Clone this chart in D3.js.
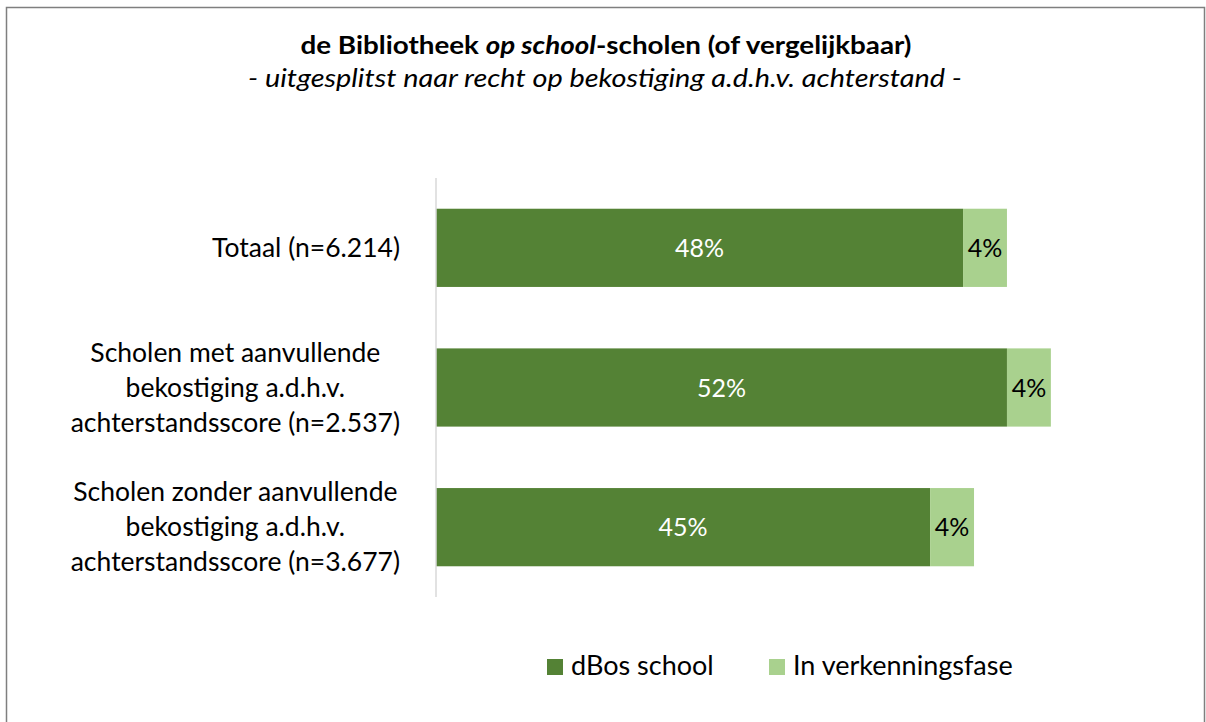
<!DOCTYPE html>
<html>
<head>
<meta charset="utf-8">
<script src="https://cdn.jsdelivr.net/npm/d3@7"></script>
<style>
  body { margin: 0; background: #fff; }
  text { font-family: Lato, "Open Sans", sans-serif; }
</style>
</head>
<body>
<div id="viz"></div>
<script>
const width = 1206, height = 722

// data
const categories = [
    ["Totaal (n=6.214)"],
    ["Scholen met aanvullende", "bekostiging a.d.h.v.", "achterstandsscore (n=2.537)"],
    ["Scholen zonder aanvullende", "bekostiging a.d.h.v.", "achterstandsscore (n=3.677)"]
]
const seriesNames = ["dBos school", "In verkenningsfase"]
const dbos = [48, 52, 45]
const verkenning = [4, 4, 4]

const colors = {
    dbos: "#548235",
    verkenning: "#a9d18e",
    axis: "#d9d9d9",
    frame: "#7f7f7f",
    text: "#000"
}

const svg = d3.select("#viz").append("svg")
    .attr("width", width)
    .attr("height", height)

svg.append("rect").attr("width", width).attr("height", height).attr("fill", "#fff")

// outer frame
svg.append("rect")
    .attr("x", 6.5).attr("y", 7.5)
    .attr("width", 1198).attr("height", 730)
    .attr("fill", "none").attr("stroke", colors.frame).attr("stroke-width", 1.5)

// title
const title = svg.append("text")
    .attr("x", 606).attr("y", 54)
    .attr("text-anchor", "middle")
    .attr("textLength", 611).attr("lengthAdjust", "spacingAndGlyphs")
    .style("font-size", "25px").style("font-weight", "bold")
title.append("tspan").text("de Bibliotheek ")
title.append("tspan").style("font-style", "italic").text("op school")
title.append("tspan").text("-scholen (of vergelijkbaar)")

svg.append("text")
    .attr("x", 605).attr("y", 87)
    .attr("text-anchor", "middle")
    .attr("textLength", 714).attr("lengthAdjust", "spacingAndGlyphs")
    .style("font-size", "26px").style("font-style", "italic")
    .text("- uitgesplitst naar recht op bekostiging a.d.h.v. achterstand -")

// scales
const x = d3.scaleLinear().domain([0, 100]).range([436, 436 + 1098])
const y = d3.scaleBand().domain(d3.range(categories.length)).range([178, 597]).paddingInner(0.44).paddingOuter(0.22)

const rows = categories.map((c, i) => ({ i, label: c, a: dbos[i], b: verkenning[i] }))

// bars
svg.selectAll(".bar-a").data(rows).join("rect")
    .attr("x", x(0)).attr("y", d => y(d.i))
    .attr("width", d => x(d.a) - x(0)).attr("height", y.bandwidth())
    .attr("fill", colors.dbos)

svg.selectAll(".bar-b").data(rows).join("rect")
    .attr("x", d => x(d.a)).attr("y", d => y(d.i))
    .attr("width", d => x(d.a + d.b) - x(d.a)).attr("height", y.bandwidth())
    .attr("fill", colors.verkenning)

// axis line
svg.append("line")
    .attr("x1", x(0)).attr("x2", x(0))
    .attr("y1", 178).attr("y2", 597)
    .attr("stroke", colors.axis).attr("stroke-width", 1.5)

// data labels
svg.selectAll(".lab-a").data(rows).join("text")
    .attr("x", d => (x(0) + x(d.a)) / 2).attr("y", d => y(d.i) + y.bandwidth() / 2)
    .attr("dy", "0.36em").attr("text-anchor", "middle")
    .style("font-size", "25px").attr("fill", "#fff")
    .text(d => d.a + "%")

svg.selectAll(".lab-b").data(rows).join("text")
    .attr("x", d => (x(d.a) + x(d.a + d.b)) / 2).attr("y", d => y(d.i) + y.bandwidth() / 2)
    .attr("dy", "0.36em").attr("text-anchor", "middle")
    .style("font-size", "25px").attr("fill", colors.text)
    .text(d => d.b + "%")

// category labels: block right-aligned, each line centred in the block
const lineH = 35, labelRight = 400
svg.selectAll(".cat").data(rows).join("text")
    .attr("text-anchor", "middle")
    .style("font-size", "26.5px").attr("fill", colors.text)
    .each(function(d) {
        const cy = y(d.i) + y.bandwidth() / 2
        const n = d.label.length
        const spans = d3.select(this).selectAll("tspan").data(d.label).join("tspan")
            .attr("y", (t, k) => cy + (k - (n - 1) / 2) * lineH)
            .attr("dy", "0.34em")
            .text(t => t)
        const w = d3.max(spans.nodes(), s => s.getComputedTextLength())
        spans.attr("x", labelRight - w / 2)
    })

// legend
const legendX = [547, 769]
const legendColors = [colors.dbos, colors.verkenning]
const lg = svg.selectAll(".legend").data(seriesNames).join("g")
    .attr("transform", (d, i) => `translate(${legendX[i]},659)`)
lg.append("rect").attr("width", 16).attr("height", 16).attr("fill", (d, i) => legendColors[i])
lg.append("text").attr("x", 24).attr("y", 16)
    .style("font-size", "27px").attr("fill", colors.text)
    .text(d => d)
</script>
</body>
</html>
